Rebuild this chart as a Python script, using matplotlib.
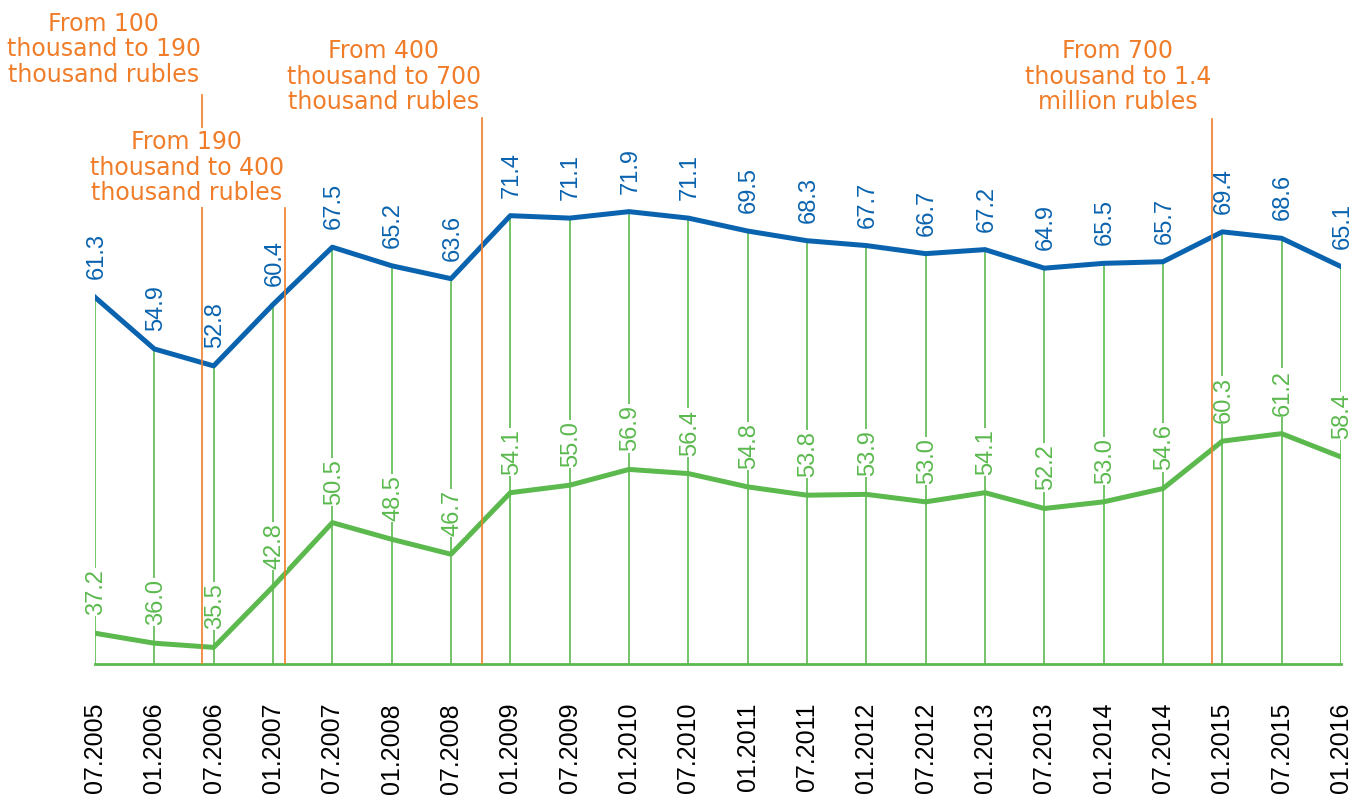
import numpy as np
import matplotlib.pyplot as plt

# periods on the x axis
periods = ['07.2005', '01.2006', '07.2006', '01.2007', '07.2007', '01.2008',
           '07.2008', '01.2009', '07.2009', '01.2010', '07.2010', '01.2011',
           '07.2011', '01.2012', '07.2012', '01.2013', '07.2013', '01.2014',
           '07.2014', '01.2015', '07.2015', '01.2016']

# upper (blue) and lower (green) series
blue_vals = [61.3, 54.9, 52.8, 60.4, 67.5, 65.2, 63.6, 71.4, 71.1, 71.9, 71.1,
             69.5, 68.3, 67.7, 66.7, 67.2, 64.9, 65.5, 65.7, 69.4, 68.6, 65.1]
green_vals = [37.2, 36.0, 35.5, 42.8, 50.5, 48.5, 46.7, 54.1, 55.0, 56.9, 56.4,
              54.8, 53.8, 53.9, 53.0, 54.1, 52.2, 53.0, 54.6, 60.3, 61.2, 58.4]

# threshold changes (position between periods) and their notes
thr_pos = [1.80, 3.20, 6.52, 18.83]
thr_text = ['From 100\nthousand to 190\nthousand rubles',
            'From 190\nthousand to 400\nthousand rubles',
            'From 400\nthousand to 700\nthousand rubles',
            'From 700\nthousand to 1.4\nmillion rubles']
# heights in axes fraction: top of the line, baseline of the note
thr_top = [0.857, 0.687, 0.822, 0.821]
thr_text_y = [0.877, 0.699, 0.836, 0.836]

BLUE = '#0a63ae'
GREEN = '#5bb94e'
ORANGE = '#f07d2a'

fig = plt.figure(figsize=(13.58, 7.99), dpi=100)
ax = fig.add_axes([95 / 1358, 135 / 799, 1246 / 1358, 664 / 799])
ax_b = ax.twinx()
x = np.arange(len(periods))
ax.set_xlim(0, len(periods) - 1)
# each series has its own scale, as in the original
ax.set_ylim(33.5, 113.35)
ax_b.set_ylim(15.9, 98.1)

# thin green drop lines up to the blue point
ax_b.vlines(x, 15.9, blue_vals, color=GREEN, lw=1.2, zorder=1)
ax.axhline(33.5, color=GREEN, lw=2, zorder=1, clip_on=False)

ax_b.plot(x, blue_vals, color=BLUE, lw=3.6, zorder=3)

lbl_font = 'Liberation Sans'
for xi, b in zip(x, blue_vals):
    ax_b.annotate(f'{b:.1f}', (xi, b), xytext=(1, 13), textcoords='offset points',
                  rotation=90, ha='center', va='bottom', color=BLUE,
                  fontsize=17, family=lbl_font, zorder=4)

# green series on the top axes so its labels sit above the drop lines
ax_g = ax_b.twinx()
ax_g.set_ylim(33.5, 113.35)
ax_g.plot(x, green_vals, color=GREEN, lw=3.6, zorder=3)
box = dict(boxstyle='square,pad=0.05', fc='white', ec='none')
for xi, g in zip(x, green_vals):
    ax_g.annotate(f'{g:.1f}', (xi, g), xytext=(1, 13), textcoords='offset points',
                  rotation=90, ha='center', va='bottom', color=GREEN,
                  fontsize=17, family=lbl_font, zorder=4, bbox=box)

# orange threshold lines and notes
for px, top in zip(thr_pos, thr_top):
    ax_g.axvline(px, 0, top, color=ORANGE, lw=1.2, zorder=4.5)

for px, ty, txt in zip(thr_pos, thr_text_y, thr_text):
    ax_g.text(px - 0.02, ty, txt, transform=ax_g.get_xaxis_transform(),
              ha='right', va='baseline', multialignment='center',
              color=ORANGE, fontsize=17, linespacing=1.07, zorder=6, clip_on=False,
              bbox=dict(boxstyle='square,pad=0.1', fc='white', ec='none'))

ax.set_xticks(x)
ax.set_xticklabels(periods, rotation=90, fontsize=18, family=lbl_font)
ax.tick_params(axis='x', length=0, pad=28)
for a in (ax, ax_b, ax_g):
    a.set_yticks([])
    for s in a.spines.values():
        s.set_visible(False)
ax_b.tick_params(axis='x', length=0)
ax_g.tick_params(axis='x', length=0)

fig.savefig('out.png', dpi=100)
